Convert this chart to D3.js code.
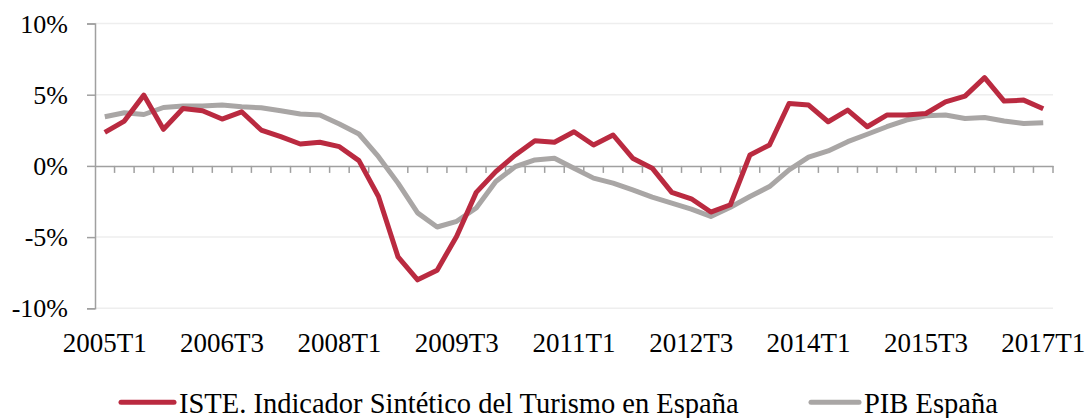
<!DOCTYPE html>
<html><head><meta charset="utf-8">
<script src="https://cdn.jsdelivr.net/npm/d3@7"></script>
<style>body{margin:0;background:#fff}svg{display:block}</style>
</head><body><svg id="c" width="1087" height="418" font-family="Liberation Serif" style="font-family:'Liberation Serif'"></svg>
<script>
const years = d3.range(2005, 2018);
const quarters = [];
years.forEach(y => [1,2,3,4].forEach(q => { if (!(y === 2017 && q > 1)) quarters.push(y + "T" + q); }));
const tickLabels = ["2005T1","2006T3","2008T1","2009T3","2011T1","2012T3","2014T1","2015T3","2017T1"];
const yTicks = [10, 5, 0, -5, -10];
const iste = [2.36,3.15,4.97,2.57,4.03,3.87,3.29,3.80,2.52,2.05,1.54,1.66,1.35,0.37,-2.15,-6.39,-8.0,-7.32,-4.94,-1.86,-0.40,0.77,1.77,1.66,2.40,1.47,2.17,0.54,-0.16,-1.86,-2.31,-3.24,-2.73,0.77,1.47,4.38,4.27,3.10,3.92,2.75,3.57,3.57,3.68,4.50,4.90,6.20,4.55,4.62,4.01];
const pib = [3.45,3.73,3.61,4.10,4.20,4.20,4.27,4.15,4.08,3.87,3.64,3.57,2.94,2.24,0.65,-1.21,-3.3,-4.29,-3.89,-2.96,-1.10,-0.05,0.42,0.54,-0.16,-0.86,-1.21,-1.68,-2.19,-2.61,-3.03,-3.55,-2.9,-2.15,-1.45,-0.28,0.61,1.05,1.70,2.22,2.75,3.22,3.52,3.57,3.33,3.40,3.15,2.98,3.03];
const seriesNames = ["ISTE. Indicador Sintético del Turismo en España", "PIB España"];
const colors = ["#BA2A40", "#A9A6A5"];

const svg = d3.select("#c");
const L = 95, R = 1053, T = 23.5, B = 308.3;
const x = d3.scaleBand().domain(quarters).range([L, R]);
const y = d3.scaleLinear().domain([-10, 10]).range([B, T]);
const cx = d => x(d) + x.bandwidth() / 2;

svg.append("g").selectAll("line").data(yTicks.filter(v => v !== 0)).join("line")
  .attr("x1", L).attr("x2", R).attr("y1", d => y(d)).attr("y2", d => y(d))
  .attr("stroke", "#EEEEEE").attr("stroke-width", 1.5);

// y axis drawn with d3 axis for line + ticks only
const ya = svg.append("g").attr("transform", `translate(${L},0)`)
  .call(d3.axisLeft(y).tickValues(yTicks).tickSize(8).tickFormat(""));
ya.attr("font-family", null).attr("font-size", null);
ya.select(".domain").attr("stroke", "#A0A0A0").attr("stroke-width", 1.5);
ya.selectAll(".tick line").attr("stroke", "#A0A0A0").attr("stroke-width", 1.5);
ya.selectAll(".tick text").remove();

const yLab = svg.append("g").selectAll("text").data(yTicks).join("text")
  .attr("x", 68).attr("y", d => y(d) + 9).attr("text-anchor", "end")
  .attr("font-size", 26).style("font-family", d => '"Liberation Serif"').text(d => d + "%");

const xa = svg.append("g").attr("transform", `translate(0,${y(0)})`)
  .call(d3.axisBottom(x).tickSize(0).tickFormat(""));
xa.attr("font-family", null).attr("font-size", null);
xa.select(".domain").attr("stroke", "#A0A0A0").attr("stroke-width", 1.5);
xa.selectAll(".tick").remove();
xa.selectAll("line.qt").data(quarters).join("line").attr("class", "qt")
  .attr("x1", d => x(d) + x.bandwidth()).attr("x2", d => x(d) + x.bandwidth())
  .attr("y1", 0).attr("y2", 7).attr("stroke", "#A0A0A0").attr("stroke-width", 1.5);

svg.append("g").selectAll("text").data(tickLabels).join("text")
  .attr("x", d => cx(d)).attr("y", 351.5).attr("text-anchor", "middle")
  .attr("font-size", 27).style("font-family", d => '"Liberation Serif"').text(d => d);

const line = d3.line().x((d, i) => cx(quarters[i])).y(d => y(d));
[pib, iste].forEach((s, k) => {
  svg.append("path").datum(s).attr("d", line).attr("fill", "none")
    .attr("stroke", k === 0 ? colors[1] : colors[0]).attr("stroke-width", 5)
    .attr("stroke-linejoin", "round");
});

const leg = [{x0: 121, x1: 174, tx: 179}, {x0: 811, x1: 859, tx: 864}];
leg.forEach((p, k) => {
  svg.append("line").attr("x1", p.x0).attr("x2", p.x1).attr("y1", 402.3).attr("y2", 402.3)
    .attr("stroke", colors[k]).attr("stroke-width", 5).attr("stroke-linecap", "round");
  svg.append("text").attr("x", p.tx).attr("y", 413)
    .attr("font-size", 28.5).style("font-family", '"Liberation Serif"').text(seriesNames[k]);
});
</script></body></html>
